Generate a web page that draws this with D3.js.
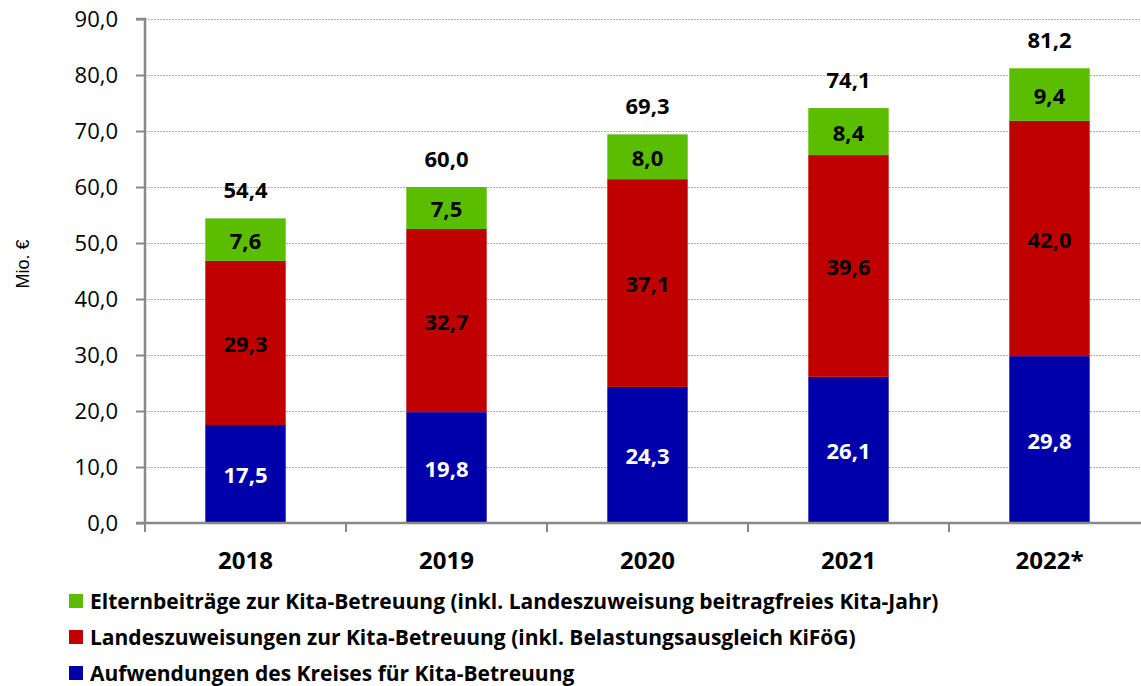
<!DOCTYPE html>
<html><head><meta charset="utf-8">
<script src="https://cdn.jsdelivr.net/npm/d3@7"></script>
<style>body{margin:0;background:#fff;overflow:hidden}svg{display:block}</style>
</head><body>
<script>
const years = ["2018","2019","2020","2021","2022*"];
const kreis = [17.5,19.8,24.3,26.1,29.8];
const land = [29.3,32.7,37.1,39.6,42.0];
const eltern = [7.6,7.5,8.0,8.4,9.4];
const totals = [54.4,60.0,69.3,74.1,81.2];
const yTicks = [0,10,20,30,40,50,60,70,80,90];
const seriesNames = [
  "Elternbeiträge zur Kita-Betreuung (inkl. Landeszuweisung beitragfreies Kita-Jahr)",
  "Landeszuweisungen zur Kita-Betreuung (inkl. Belastungsausgleich KiFöG)",
  "Aufwendungen des Kreises für Kita-Betreuung"
];
const colors = {kreis:"#0000AA", land:"#C00000", eltern:"#5BBD00"};

const W=1141,H=686;
const font="'Open Sans', sans-serif";
const svg=d3.select("body").append("svg").attr("width",W).attr("height",H).style("font-family",font);

const x0=145, bw=201;
const x=d3.scaleBand().domain(years).range([x0,x0+bw*years.length]).paddingInner(0.6).paddingOuter(0.3);
const y=d3.scaleLinear().domain([0,90]).range([523,19]);
const fmt=v=>d3.format(".1f")(v).replace(".",",");

// gridlines
svg.append("g").selectAll("line").data(yTicks.filter(d=>d>0)).join("line")
  .attr("x1",x0).attr("x2",W).attr("y1",d=>y(d)+0.5).attr("y2",d=>y(d)+0.5)
  .attr("stroke","#b0b0b0").attr("stroke-width",1).attr("stroke-dasharray","2,1");

// y axis
const ya=svg.append("g").attr("transform",`translate(${x0},0)`)
  .call(d3.axisLeft(y).tickValues(yTicks).tickSize(9).tickPadding(18).tickFormat(fmt));
ya.select(".domain").attr("stroke","#898989").attr("stroke-width",2.5).attr("d",`M-9,${y(90)}H0V${y(0)}`);
ya.selectAll(".tick line").attr("stroke","#898989").attr("stroke-width",2);
ya.selectAll(".tick text").attr("font-size",22).attr("fill","#000").style("font-family",font).attr("dy","0.35em");

// stacks
const stacked=years.map((yr,i)=>{
  const segs=[];let b=0;
  [["kreis",kreis[i],"#fff"],["land",land[i],"#000"],["eltern",eltern[i],"#000"]].forEach(([k,v,tc])=>{
    segs.push({k,v,y0:b,y1:b+v,tc,yr});b+=v;});
  return segs;
}).flat();
const bars=svg.append("g");
bars.selectAll("rect").data(stacked).join("rect")
  .attr("x",d=>x(d.yr)).attr("width",x.bandwidth())
  .attr("y",d=>y(d.y1)).attr("height",d=>y(d.y0)-y(d.y1))
  .attr("fill",d=>colors[d.k]);
bars.selectAll("text").data(stacked).join("text")
  .attr("x",d=>x(d.yr)+x.bandwidth()/2).attr("y",d=>(y(d.y0)+y(d.y1))/2+9)
  .attr("text-anchor","middle").attr("font-size",22).attr("font-weight","bold")
  .attr("fill",d=>d.tc).text(d=>fmt(d.v));

// totals
svg.append("g").selectAll("text").data(years).join("text")
  .attr("x",d=>x(d)+x.bandwidth()/2).attr("y",(d,i)=>y(kreis[i]+land[i]+eltern[i])-20)
  .attr("text-anchor","middle").attr("font-size",22).attr("font-weight","bold")
  .text((d,i)=>fmt(totals[i]));

// x axis
const xa=svg.append("g").attr("transform",`translate(0,${y(0)})`);
xa.append("line").attr("x1",x0-9).attr("x2",W).attr("y1",0).attr("y2",0).attr("stroke","#898989").attr("stroke-width",2.5);
xa.selectAll("line.t").data(d3.range(years.length+1)).join("line").attr("class","t")
  .attr("x1",i=>x0+i*bw).attr("x2",i=>x0+i*bw).attr("y1",0).attr("y2",9)
  .attr("stroke","#898989").attr("stroke-width",2);
xa.selectAll("text").data(years).join("text")
  .attr("x",d=>x(d)+x.bandwidth()/2).attr("y",46).attr("text-anchor","middle")
  .attr("font-size",24).attr("font-weight","bold").text(d=>d);

// y label
svg.append("text").attr("transform",`translate(29,${264}) rotate(-90)`).attr("text-anchor","middle")
  .attr("font-size",18).style("font-family","'Liberation Sans', Arial, sans-serif").text("Mio. €");

// legend
const leg=svg.append("g");
const legCols=[colors.eltern,colors.land,colors.kreis];
seriesNames.forEach((n,i)=>{
  const yy=601+i*36;
  leg.append("rect").attr("x",69).attr("y",yy-7).attr("width",14).attr("height",14).attr("fill",legCols[i]);
  leg.append("text").attr("x",90).attr("y",yy+8).attr("font-size",21).attr("font-weight","bold").text(n);
});
</script>
</body></html>
